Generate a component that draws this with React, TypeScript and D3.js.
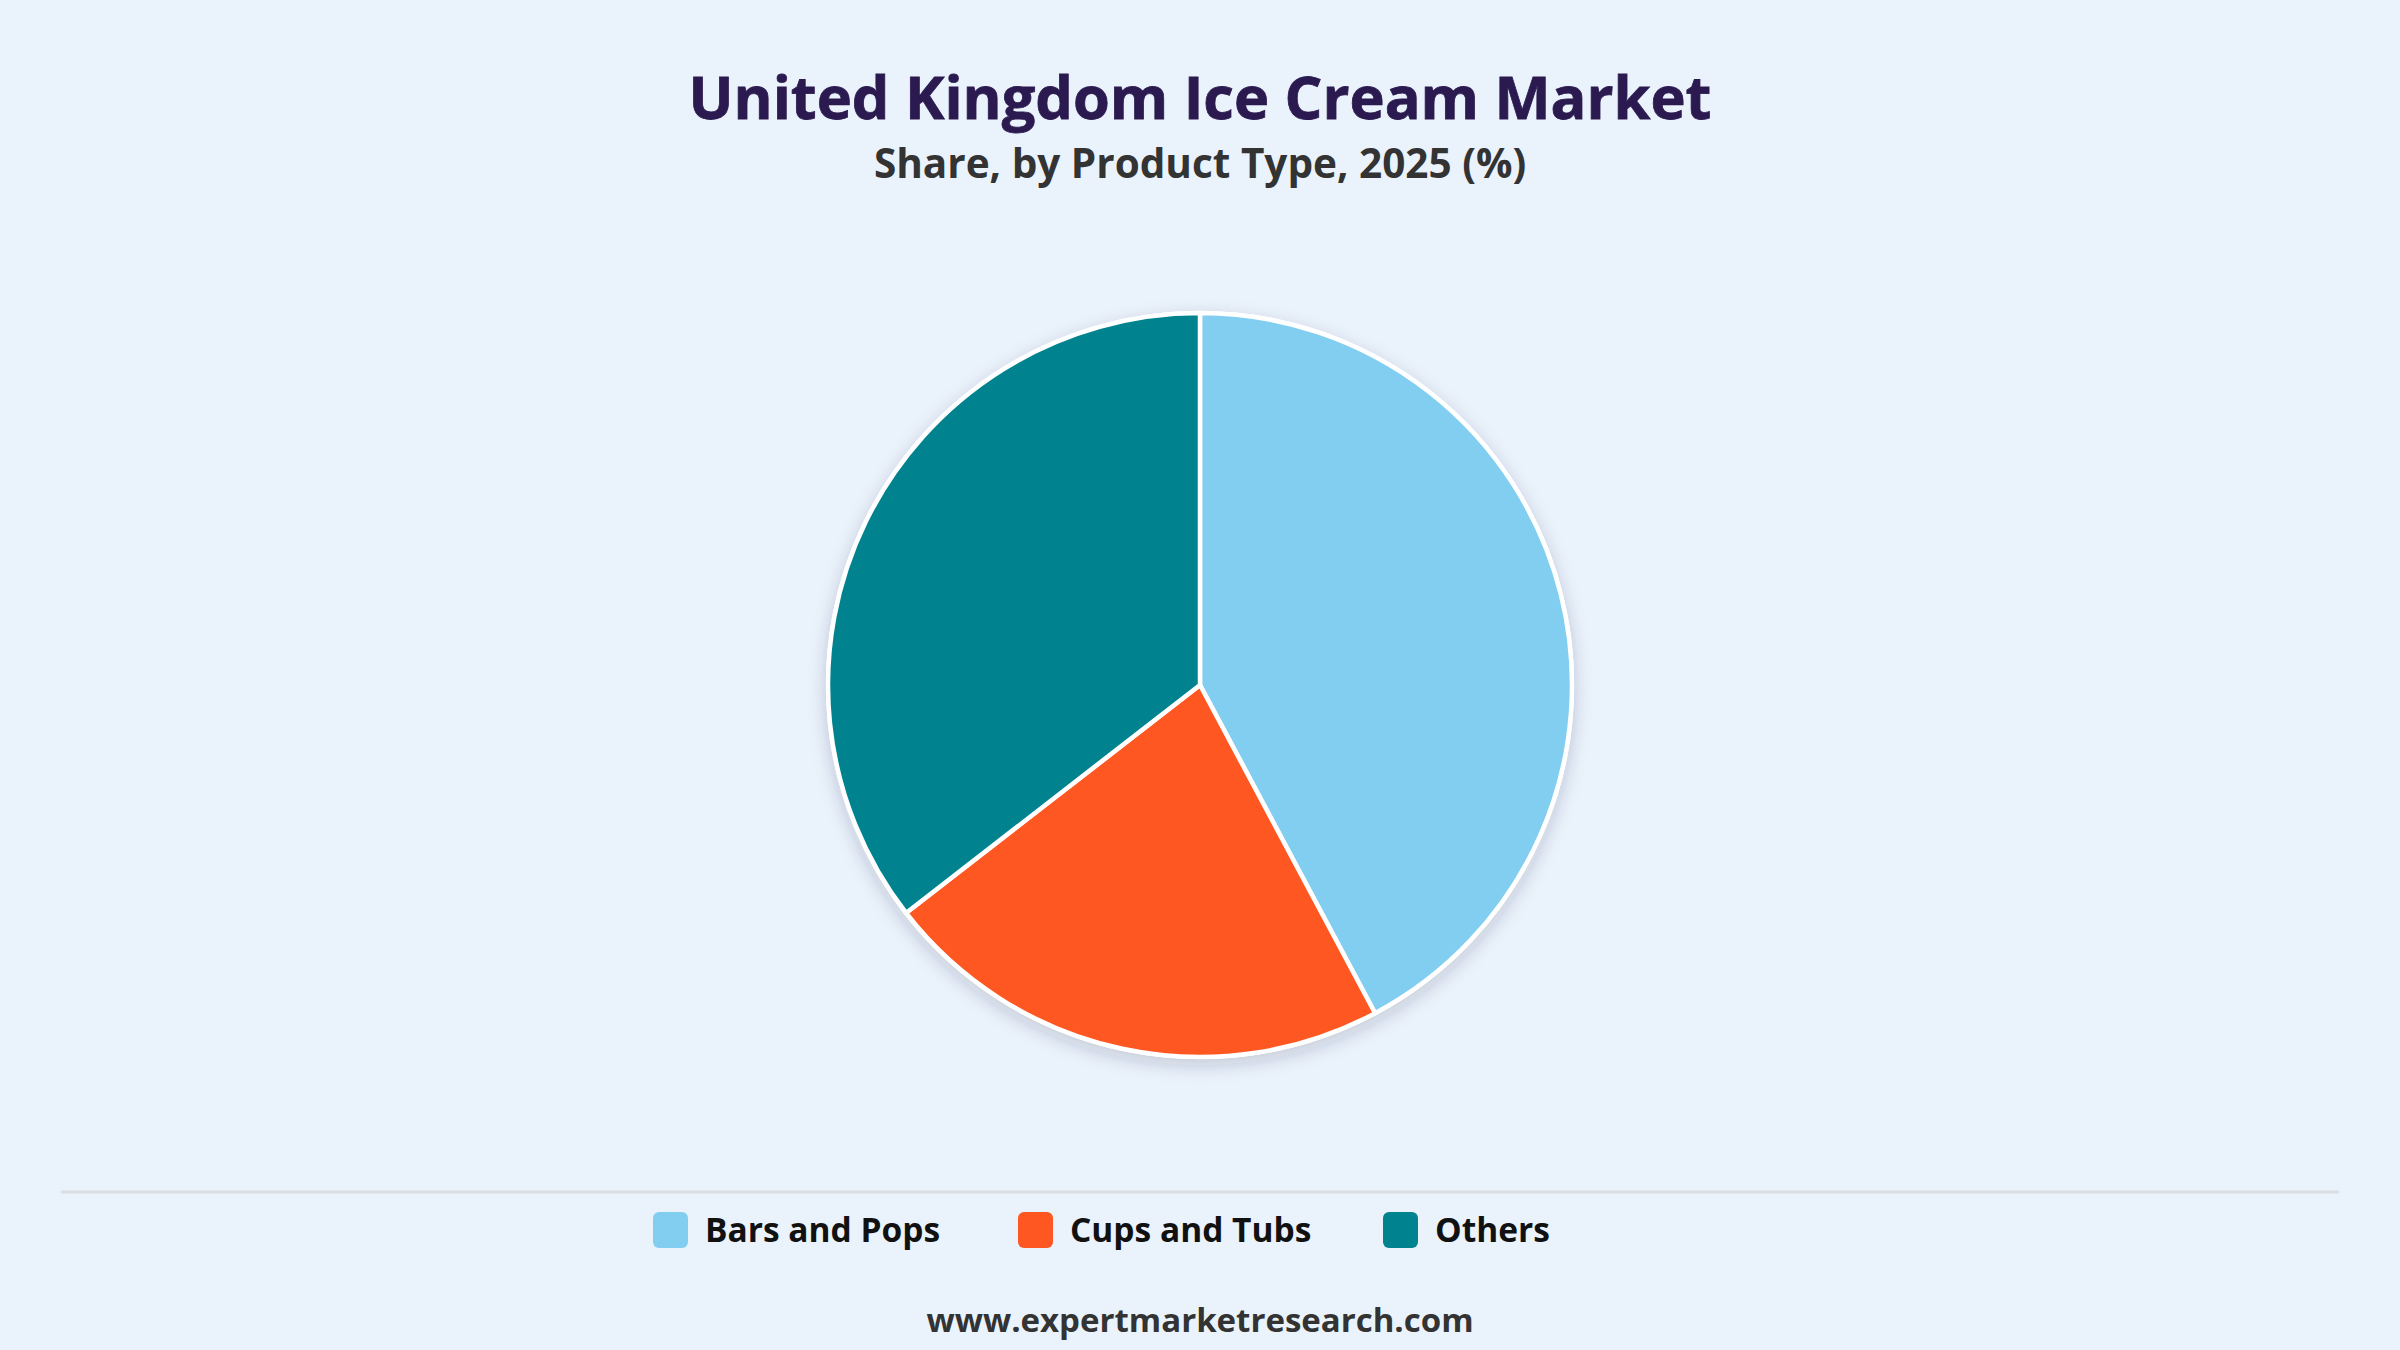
import { arc, pie, scaleBand, scaleOrdinal } from "d3";
import type { PieArcDatum } from "d3";

const categories = ["Bars and Pops", "Cups and Tubs", "Others"];
const shares = [42.2, 22.3, 35.5];
const palette = ["#81CEF1", "#FF5722", "#00838F"];

const title = "United Kingdom Ice Cream Market";
const subtitle = "Share, by Product Type, 2025 (%)";
const source = "www.expertmarketresearch.com";

const W = 2400;
const H = 1350;
const FONT = "'Segoe UI', 'Open Sans', 'Noto Sans', 'DejaVu Sans', sans-serif";

export default function App() {
  const cx = W / 2;
  const cy = 685;
  const radius = 372;

  const color = scaleOrdinal<string, string>().domain(categories).range(palette);

  const slices = pie<number>()
    .sort(null)
    .value((d) => d)(shares);

  const slicePath = arc<PieArcDatum<number>>().innerRadius(0).outerRadius(radius);

  // legend items sit on an even step, first swatch at x=653
  const legendX = scaleBand<string>().domain(categories).range([653, 653 + 365 * 3]);

  return (
    <div style={{ position: "absolute", left: 0, top: 0, width: W, height: H }}>
      <svg width={W} height={H} viewBox={`0 0 ${W} ${H}`} style={{ display: "block", fontFamily: FONT }}>
        <defs>
          <filter id="pieShadow" x="-20%" y="-20%" width="140%" height="140%">
            <feDropShadow dx={0} dy={6} stdDeviation={9} floodColor="#1b2b45" floodOpacity={0.2} />
          </filter>
        </defs>
        <rect width={W} height={H} fill="#EAF2FB" />

        <text x={W / 2} y={119} textAnchor="middle" fontSize={59.5} fontWeight={700} fill="#2B1A4F" stroke="#2B1A4F" strokeWidth={0.8}>
          {title}
        </text>
        <text x={W / 2} y={178} textAnchor="middle" fontSize={40.5} fontWeight={700} fill="#333333">
          {subtitle}
        </text>

        <g transform={`translate(${cx}, ${cy})`}>
          <circle r={radius + 2} fill="#ffffff" filter="url(#pieShadow)" />
          {slices.map((s, i) => (
            <path
              key={categories[i]}
              d={slicePath(s) ?? ""}
              fill={color(categories[i])}
              stroke="#ffffff"
              strokeWidth={4.5}
              strokeLinejoin="round"
            />
          ))}
        </g>

        <line x1={61} x2={2339} y1={1192} y2={1192} stroke="#d9dde2" strokeWidth={3} />

        {categories.map((c) => (
          <g key={c} transform={`translate(${legendX(c)}, 1212)`}>
            <rect width={35} height={36} rx={6} fill={color(c)} />
            <text x={52} y={30} fontSize={33.5} fontWeight={700} fill="#111111">
              {c}
            </text>
          </g>
        ))}

        <text x={W / 2} y={1332} textAnchor="middle" fontSize={33} fontWeight={700} fill="#333333">
          {source}
        </text>
      </svg>
    </div>
  );
}
